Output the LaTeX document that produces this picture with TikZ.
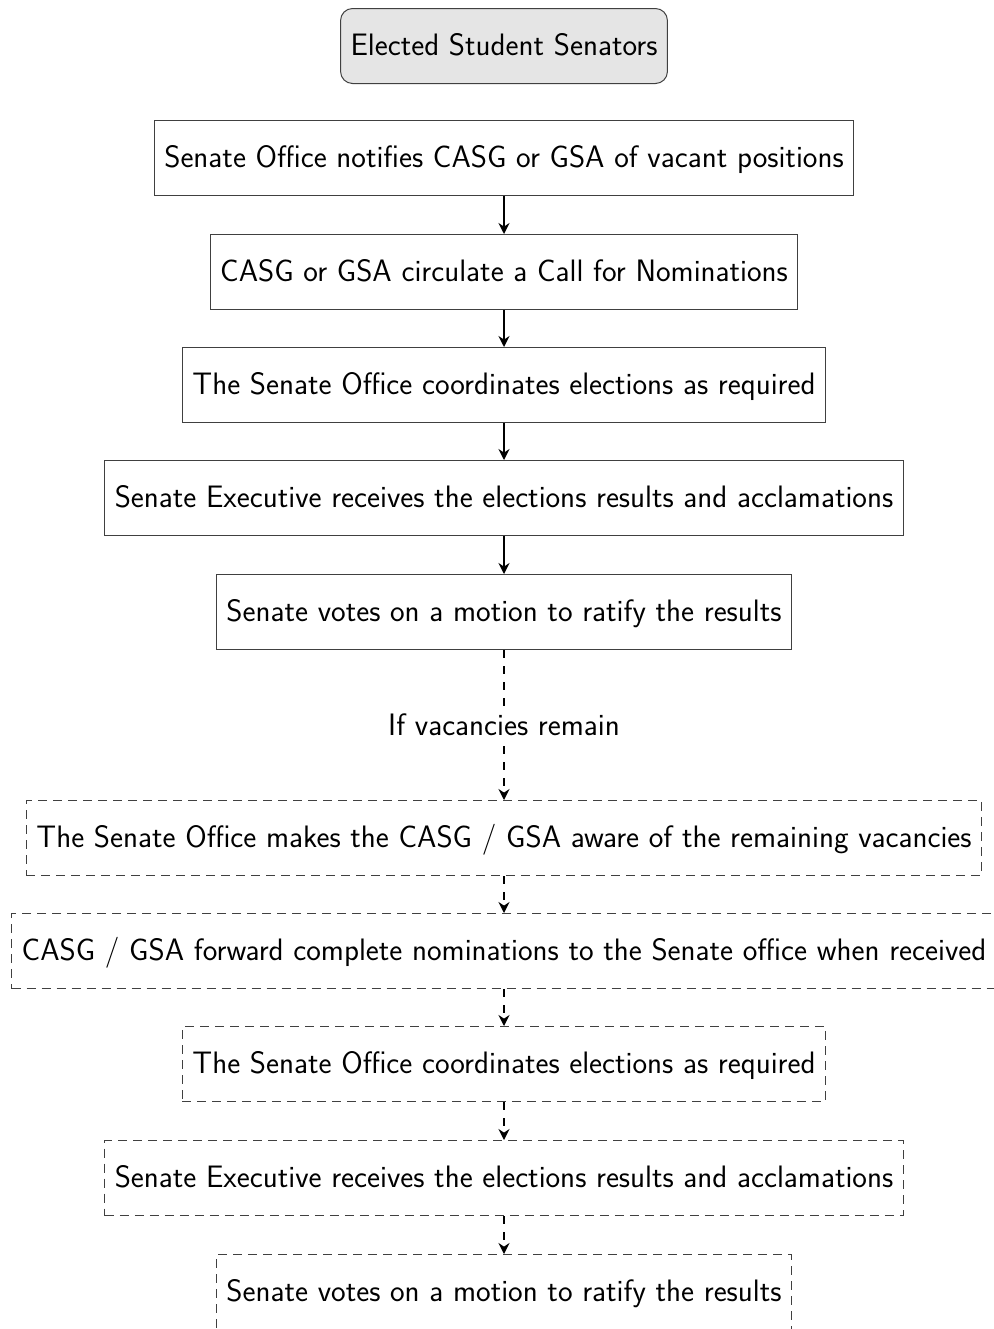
\documentclass[tikz,border=0pt]{standalone}
\usetikzlibrary{arrows.meta}
\renewcommand{\familydefault}{\sfdefault}
\begin{document}
\begin{tikzpicture}[x=0.5pt,y=-0.5pt,
  every node/.style={font=\fontsize{15.5}{18}\selectfont\sffamily},
  stepbox/.style={draw=black!75, line width=0.5pt, minimum height=37.5pt, inner xsep=5pt, text height=12.5pt, text depth=3pt},
  dstepbox/.style={stepbox, dash pattern=on 4.5pt off 3pt},
  topbox/.style={stepbox, rounded corners=6pt, fill=black!10},
  arr/.style={line width=0.9pt, -{Stealth[length=5.5pt,width=5.5pt]}},
  darr/.style={arr, dash pattern=on 4pt off 4pt}]
\useasboundingbox (0,0) rectangle (994,1329);
\node[topbox] (top) at (504,46) {Elected Student Senators};
\node[stepbox] (a1) at (504,158) {Senate Office notifies CASG or GSA of vacant positions};
\node[stepbox] (a2) at (504,272) {CASG or GSA circulate a Call for Nominations};
\node[stepbox] (a3) at (504,385) {The Senate Office coordinates elections as required};
\node[stepbox] (a4) at (504,498) {Senate Executive receives the elections results and acclamations};
\node[stepbox] (a5) at (504,612) {Senate votes on a motion to ratify the results};
\node[dstepbox] (b1) at (504,838) {The Senate Office makes the CASG / GSA aware of the remaining vacancies};
\node[dstepbox] (b2) at (504,951) {CASG / GSA forward complete nominations to the Senate office when received};
\node[dstepbox] (b3) at (504,1064) {The Senate Office coordinates elections as required};
\node[dstepbox] (b4) at (504,1178) {Senate Executive receives the elections results and acclamations};
\node[dstepbox] (b5) at (504,1292) {Senate votes on a motion to ratify the results};
\draw[arr] (a1) -- (a2);
\draw[arr] (a2) -- (a3);
\draw[arr] (a3) -- (a4);
\draw[arr] (a4) -- (a5);
\draw[darr] (a5) -- node[fill=white, inner xsep=2pt, inner ysep=3pt, solid] (cond) {If vacancies remain} (b1);
\draw[darr] (b1) -- (b2);
\draw[darr] (b2) -- (b3);
\draw[darr] (b3) -- (b4);
\draw[darr] (b4) -- (b5);
\end{tikzpicture}
\end{document}
